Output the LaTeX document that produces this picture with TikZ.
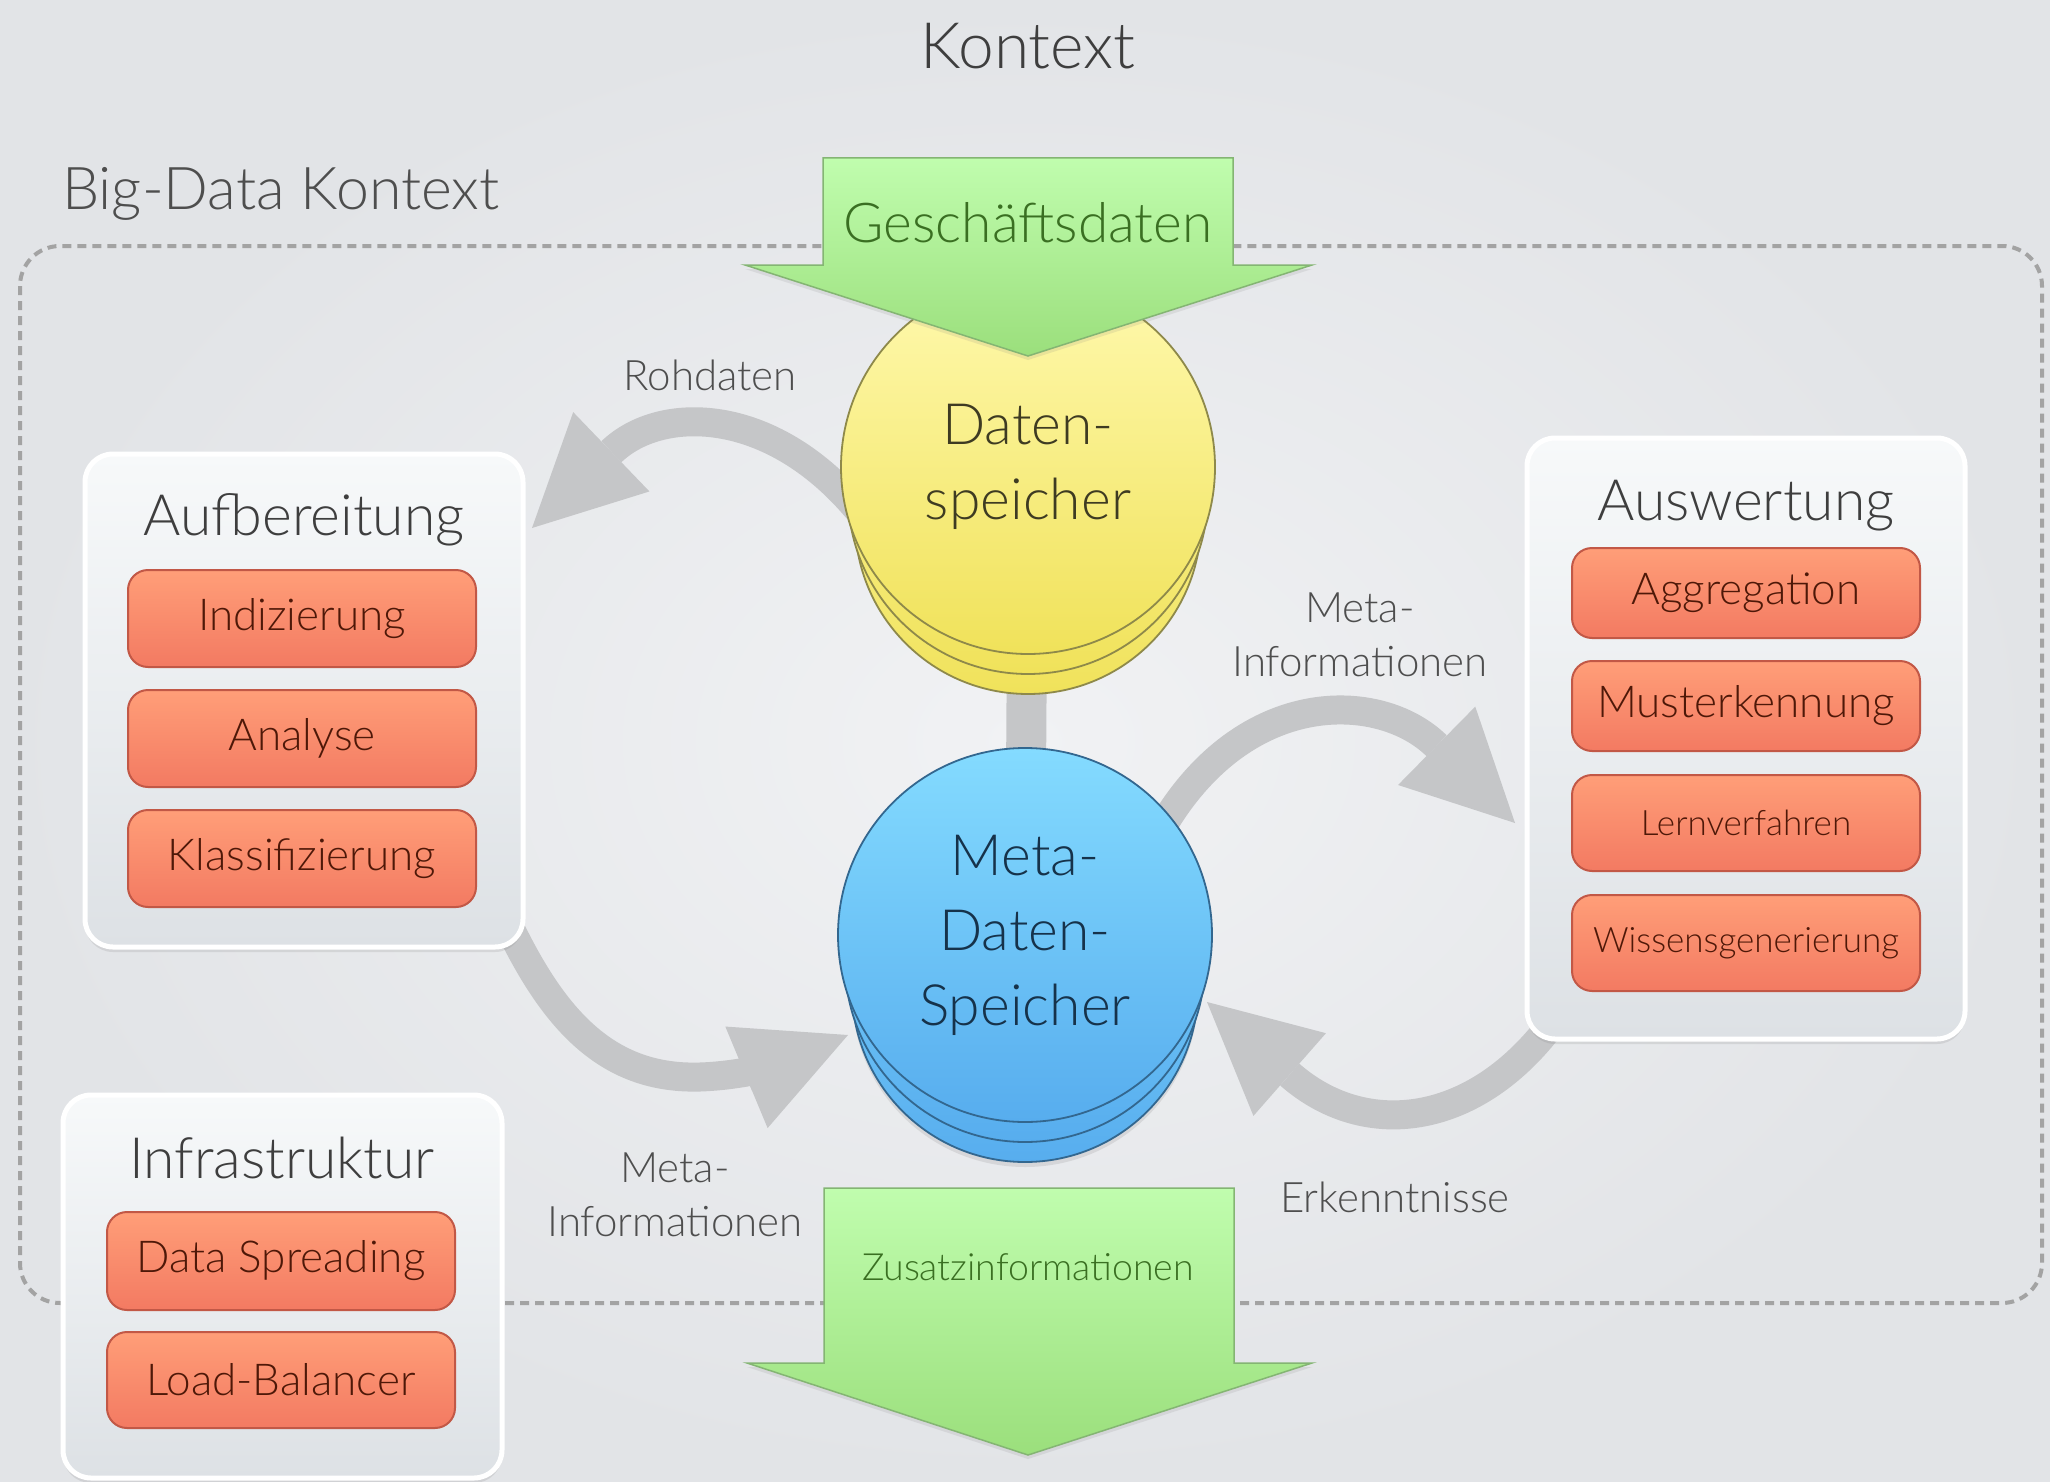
\documentclass[tikz,border=0pt]{standalone}
\usepackage{fontspec}
\setmainfont{Lato Light}
\usetikzlibrary{shadows,arrows.meta,calc}
\pgfdeclarelayer{bglayer}
\pgfdeclarelayer{arrowlayer}
\pgfsetlayers{bglayer,arrowlayer,main}
\definecolor{bgin}{HTML}{F1F2F4}
\definecolor{bgout}{HTML}{E2E4E7}
\definecolor{dashgray}{HTML}{A3A3A3}
\definecolor{arrowgray}{HTML}{C5C6C8}
\definecolor{conttop}{HTML}{F7F9FA}
\definecolor{contbot}{HTML}{DDE1E5}
\definecolor{otop}{HTML}{FF9E78}
\definecolor{obot}{HTML}{F37A62}
\definecolor{oborder}{HTML}{C25846}
\definecolor{otext}{HTML}{4E1808}
\definecolor{ytop}{HTML}{FFF9AE}
\definecolor{ybot}{HTML}{F0E25A}
\definecolor{yborder}{HTML}{8E894A}
\definecolor{ytext}{HTML}{3E3B22}
\definecolor{btop}{HTML}{84DBFF}
\definecolor{bbot}{HTML}{57ADEE}
\definecolor{bborder}{HTML}{33678F}
\definecolor{btext}{HTML}{16324A}
\definecolor{gtop}{HTML}{C0FDAE}
\definecolor{gbot}{HTML}{9BDF7C}
\definecolor{gborder}{HTML}{84B573}
\definecolor{gtext}{HTML}{3A6F22}
\definecolor{titlegray}{HTML}{3E3E3E}
\definecolor{labgray}{HTML}{4E4E4E}
\begin{document}
\begin{tikzpicture}[x=1pt,y=-1pt,
  bigtitle/.style={text=titlegray, font=\fontsize{64}{70}\selectfont, inner sep=0},
  ctxtitle/.style={text=labgray, font=\fontsize{59}{66}\selectfont, inner sep=0},
  boxtitle/.style={text=titlegray, font=\fontsize{57}{64}\selectfont, inner sep=0},
  lbl/.style={text=labgray, font=\fontsize{42}{54}\selectfont, inner sep=0, align=center},
  container/.style={draw=white, line width=5pt, rounded corners=28pt,
    top color=conttop, bottom color=contbot, inner sep=0,
    drop shadow={opacity=0.18, shadow xshift=0pt, shadow yshift=-5pt}},
  obox/.style={draw=oborder, line width=2pt, rounded corners=20pt,
    top color=otop, bottom color=obot, minimum width=348pt, inner sep=0,
    text=otext, font=\fontsize{44}{50}\selectfont},
  osmall/.style={font=\fontsize{35}{40}\selectfont},
  disk/.style={circle, inner sep=0, line width=1.8pt, align=center,
    font=\fontsize{57}{75}\selectfont},
  ydisk/.style={disk, draw=yborder, top color=ytop, bottom color=ybot, text=ytext},
  bdisk/.style={disk, draw=bborder, top color=btop, bottom color=bbot, text=btext},
  garrow/.style={draw=gborder, line width=1.5pt, top color=gtop, bottom color=gbot,
    drop shadow={opacity=0.15, shadow xshift=0pt, shadow yshift=-4pt}},
  gtextstyle/.style={text=gtext, inner sep=0},
  grayarrow/.style={draw=arrowgray, line width=29pt,
    -{Triangle[length=110pt,width=110pt,line width=0pt]}},
  dashline/.style={draw=dashgray, line width=4pt, dash pattern=on 9pt off 6pt, rounded corners=40pt}
]
\useasboundingbox (0,0) rectangle (2050,1482);
\begin{pgfonlayer}{bglayer}
\shade[inner color=bgin, outer color=bgout] (0,0) rectangle (2050,1482);
\draw[dashline] (20,246) rectangle (2042,1303);
\end{pgfonlayer}

% titles
\node[bigtitle, anchor=base] (kontext) at (1028,69) {Kontext};
\node[ctxtitle, anchor=base west] (bigdata) at (62,210) {Big-Data Kontext};

% named tips
\coordinate (tipA) at (532,528);
\coordinate (tipB) at (848,1035);
\coordinate (tipC) at (1515,823);
\coordinate (tipD) at (1207,1002);

% containers
\node[container, minimum width=438pt, minimum height=493pt] (aufb) at (304,700.5) {};
\node[container, minimum width=438pt, minimum height=601pt] (ausw) at (1746,738.5) {};
\node[container, minimum width=439pt, minimum height=383pt] (infra) at (282.5,1286.5) {};

% disks (lower layers first)
\node[ydisk, minimum size=346pt] (yel3) at (1028,521) {};
\node[ydisk, minimum size=360pt] (yel2) at (1028,494) {};
\node[ydisk, minimum size=374pt] (yel) at (1028,467) {Daten-\\speicher};
\node[bdisk, minimum size=346pt, drop shadow={opacity=0.18, shadow xshift=0pt, shadow yshift=-5pt}] (blu3) at (1025,989) {};
\node[bdisk, minimum size=360pt] (blu2) at (1025,962) {};
\node[bdisk, minimum size=374pt] (blu) at (1025,935) {Meta-\\Daten-\\Speicher};

% grey connectors behind
\begin{pgfonlayer}{arrowlayer}
\draw[draw=arrowgray, line width=40pt] (yel.center) -- (blu.center);
\draw[grayarrow, shorten <=-25pt] (yel.187) .. controls (770,405) and (660,405) .. (tipA);
\draw[grayarrow, shorten <=-25pt] ($(aufb.south east)+(-20,-30)$) .. controls (545,1010) and (600,1080) .. (700,1077) .. controls (760,1075) and (800,1055) .. (tipB);
\draw[grayarrow, shorten <=-25pt] (blu.40) .. controls (1240,685) and (1380,690) .. (tipC);
\draw[grayarrow, shorten <=-25pt] ($(ausw.south west)+(30,-20)$) .. controls (1490,1125) and (1370,1145) .. (tipD);
\end{pgfonlayer}

% box titles
\node[boxtitle, anchor=base] (taufb) at (304,535) {Aufbereitung};
\node[boxtitle, anchor=base] (tausw) at (1746,520) {Auswertung};
\node[boxtitle, anchor=base] (tinfra) at (282,1178) {Infrastruktur};

% orange boxes
\node[obox, minimum height=97pt] (idx) at (302,618.5) {Indizierung};
\node[obox, minimum height=97pt] (ana) at (302,738.5) {Analyse};
\node[obox, minimum height=97pt] (kla) at (302,858.5) {Klassifizierung};

\node[obox, minimum height=90pt] (agg) at (1746,593) {Aggregation};
\node[obox, minimum height=90pt] (mus) at (1746,706) {Musterkennung};
\node[obox, osmall, minimum height=96pt] (ler) at (1746,823) {Lernverfahren};
\node[obox, osmall, minimum height=96pt] (wis) at (1746,943) {Wissensgenerierung};

\node[obox, minimum height=98pt] (dsp) at (281,1261) {Data Spreading};
\node[obox, minimum height=96pt] (lbl) at (281,1380) {Load-Balancer};

% green arrows
\path[garrow] (823,158) -- (1233,158) -- (1233,265) -- (1312,265) -- (1028,356) -- (745,265) -- (823,265) -- cycle;
\node[gtextstyle, anchor=base, font=\fontsize{55}{60}\selectfont] (gesch) at (1028,243) {Geschäftsdaten};

\path[garrow] (824,1188) -- (1234,1188) -- (1234,1363) -- (1312,1363) -- (1028,1455) -- (747,1363) -- (824,1363) -- cycle;
\node[gtextstyle, anchor=base, font=\fontsize{37.5}{44}\selectfont] (zusatz) at (1028,1280) {Zusatzinformationen};

% labels
\node[lbl, anchor=base] (roh) at (710,390) {Rohdaten};
\node[lbl] (metaR) at (1360,635) {Meta-\\Informationen};
\node[lbl] (metaL) at (675,1195) {Meta-\\Informationen};
\node[lbl, anchor=base] (erk) at (1395,1212) {Erkenntnisse};
\end{tikzpicture}
\end{document}
